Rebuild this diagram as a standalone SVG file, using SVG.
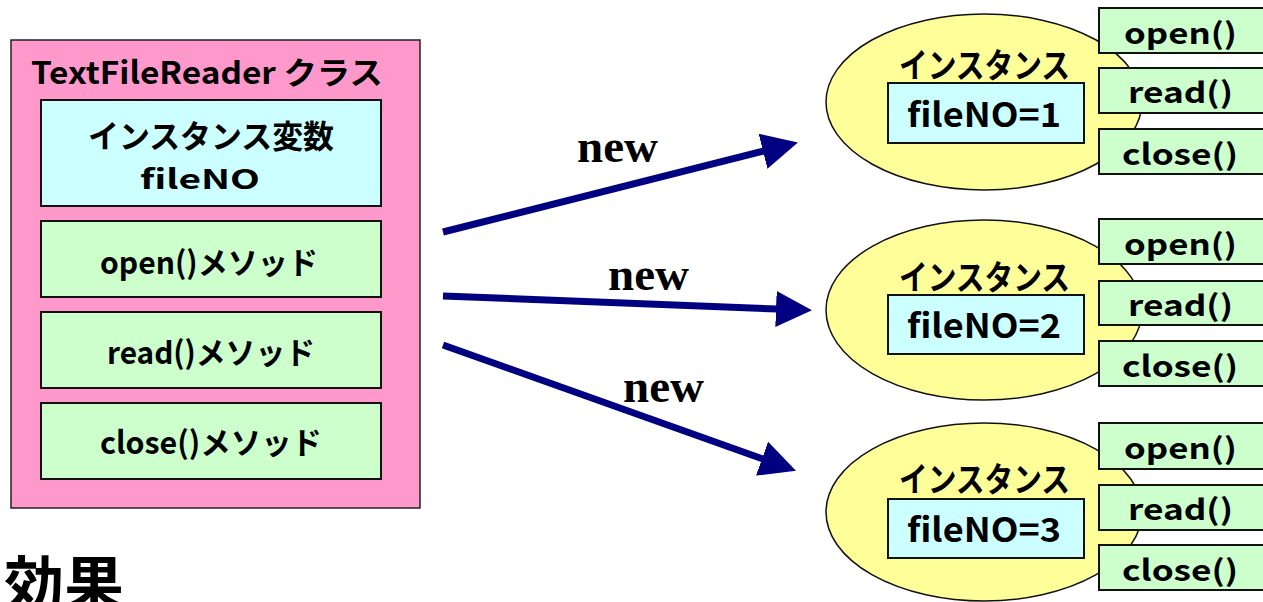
<svg xmlns="http://www.w3.org/2000/svg" width="1263" height="602" viewBox="0 0 1263 602">
<defs>
<style>
.t{font-family:"Noto Sans CJK JP","DejaVu Sans",sans-serif;font-weight:bold;fill:#000}
.new{font-family:"Liberation Serif","Times New Roman",serif;font-weight:bold;font-size:47px;fill:#000}
.cls{fill:#FF99CC;stroke:#222;stroke-width:1.5}
.var{fill:#CCFFFF;stroke:#111;stroke-width:2}
.meth{fill:#CCFFCC;stroke:#111;stroke-width:2}
.inst{fill:#FFFF99;stroke:#111;stroke-width:1.5}
.arr{stroke:#000080;stroke-width:7;fill:none}
</style>
<marker id="ah" markerUnits="userSpaceOnUse" markerWidth="36" markerHeight="36" viewBox="0 0 36 36" refX="1" refY="18" orient="auto">
<path d="M0,0 L36,18 L0,36 z" fill="#000080"/>
</marker>
</defs>
<rect width="1263" height="602" fill="#fff"/>

<g id="class-TextFileReader">
<rect class="cls" x="11" y="40" width="409" height="468"/>
<text class="t" x="31" y="84" font-size="31" textLength="352" lengthAdjust="spacingAndGlyphs">TextFileReader クラス</text>
</g>
<g id="var-fileNO">
<rect class="var" x="41" y="100" width="340" height="106"/>
<text class="t" x="88" y="148" font-size="32" textLength="246" lengthAdjust="spacingAndGlyphs">インスタンス変数</text>
<text class="t" x="140" y="189" font-size="27" textLength="120" lengthAdjust="spacingAndGlyphs">fileNO</text>
</g>
<g id="method-open">
<rect class="meth" x="41" y="221" width="340" height="76"/>
<text class="t" x="100" y="274" font-size="31" textLength="218" lengthAdjust="spacingAndGlyphs">open()メソッド</text>
</g>
<g id="method-read">
<rect class="meth" x="41" y="312" width="340" height="76"/>
<text class="t" x="107" y="364" font-size="31" textLength="208" lengthAdjust="spacingAndGlyphs">read()メソッド</text>
</g>
<g id="method-close">
<rect class="meth" x="41" y="403" width="340" height="76"/>
<text class="t" x="100" y="454" font-size="31" textLength="222" lengthAdjust="spacingAndGlyphs">close()メソッド</text>
</g>

<g id="connectors">
<line class="arr" x1="443" y1="232" x2="764" y2="151" marker-end="url(#ah)"/>
<line class="arr" x1="443" y1="296" x2="777" y2="309" marker-end="url(#ah)"/>
<line class="arr" x1="443" y1="345" x2="763" y2="459" marker-end="url(#ah)"/>
<text class="new" x="577" y="162">new</text>
<text class="new" x="608" y="290">new</text>
<text class="new" x="623" y="402">new</text>
</g>

<g id="instance-1">
<ellipse class="inst" cx="984" cy="102" rx="158" ry="88"/>
<text class="t" x="899" y="78" font-size="34" textLength="171" lengthAdjust="spacingAndGlyphs">インスタンス</text>
<rect class="var" x="888" y="83" width="196" height="60"/>
<text class="t" x="907" y="127" font-size="33" textLength="154" lengthAdjust="spacingAndGlyphs">fileNO=1</text>
<rect class="meth" x="1099" y="8" width="175" height="45"/>
<text class="t" x="1124" y="44" font-size="29" textLength="113" lengthAdjust="spacingAndGlyphs">open()</text>
<rect class="meth" x="1099" y="68" width="175" height="45"/>
<text class="t" x="1128" y="103" font-size="29" textLength="105" lengthAdjust="spacingAndGlyphs">read()</text>
<rect class="meth" x="1099" y="129" width="175" height="45"/>
<text class="t" x="1122" y="165" font-size="29" textLength="116" lengthAdjust="spacingAndGlyphs">close()</text>
</g>

<g id="instance-2">
<ellipse class="inst" cx="984" cy="310" rx="158" ry="90"/>
<text class="t" x="899" y="290" font-size="34" textLength="171" lengthAdjust="spacingAndGlyphs">インスタンス</text>
<rect class="var" x="888" y="295" width="196" height="59"/>
<text class="t" x="907" y="338" font-size="33" textLength="154" lengthAdjust="spacingAndGlyphs">fileNO=2</text>
<rect class="meth" x="1099" y="219" width="175" height="45"/>
<text class="t" x="1124" y="255" font-size="29" textLength="113" lengthAdjust="spacingAndGlyphs">open()</text>
<rect class="meth" x="1099" y="281" width="175" height="44"/>
<text class="t" x="1128" y="316" font-size="29" textLength="105" lengthAdjust="spacingAndGlyphs">read()</text>
<rect class="meth" x="1099" y="341" width="175" height="45"/>
<text class="t" x="1122" y="377" font-size="29" textLength="116" lengthAdjust="spacingAndGlyphs">close()</text>
</g>

<g id="instance-3">
<ellipse class="inst" cx="984" cy="512" rx="158" ry="89"/>
<text class="t" x="899" y="492" font-size="34" textLength="171" lengthAdjust="spacingAndGlyphs">インスタンス</text>
<rect class="var" x="888" y="499" width="196" height="59"/>
<text class="t" x="907" y="542" font-size="33" textLength="154" lengthAdjust="spacingAndGlyphs">fileNO=3</text>
<rect class="meth" x="1099" y="423" width="175" height="46"/>
<text class="t" x="1124" y="459" font-size="29" textLength="113" lengthAdjust="spacingAndGlyphs">open()</text>
<rect class="meth" x="1099" y="485" width="175" height="45"/>
<text class="t" x="1128" y="520" font-size="29" textLength="105" lengthAdjust="spacingAndGlyphs">read()</text>
<rect class="meth" x="1099" y="545" width="175" height="45"/>
<text class="t" x="1122" y="581" font-size="29" textLength="116" lengthAdjust="spacingAndGlyphs">close()</text>
</g>

<text class="t" x="4" y="606" font-size="60">効果</text>
</svg>
